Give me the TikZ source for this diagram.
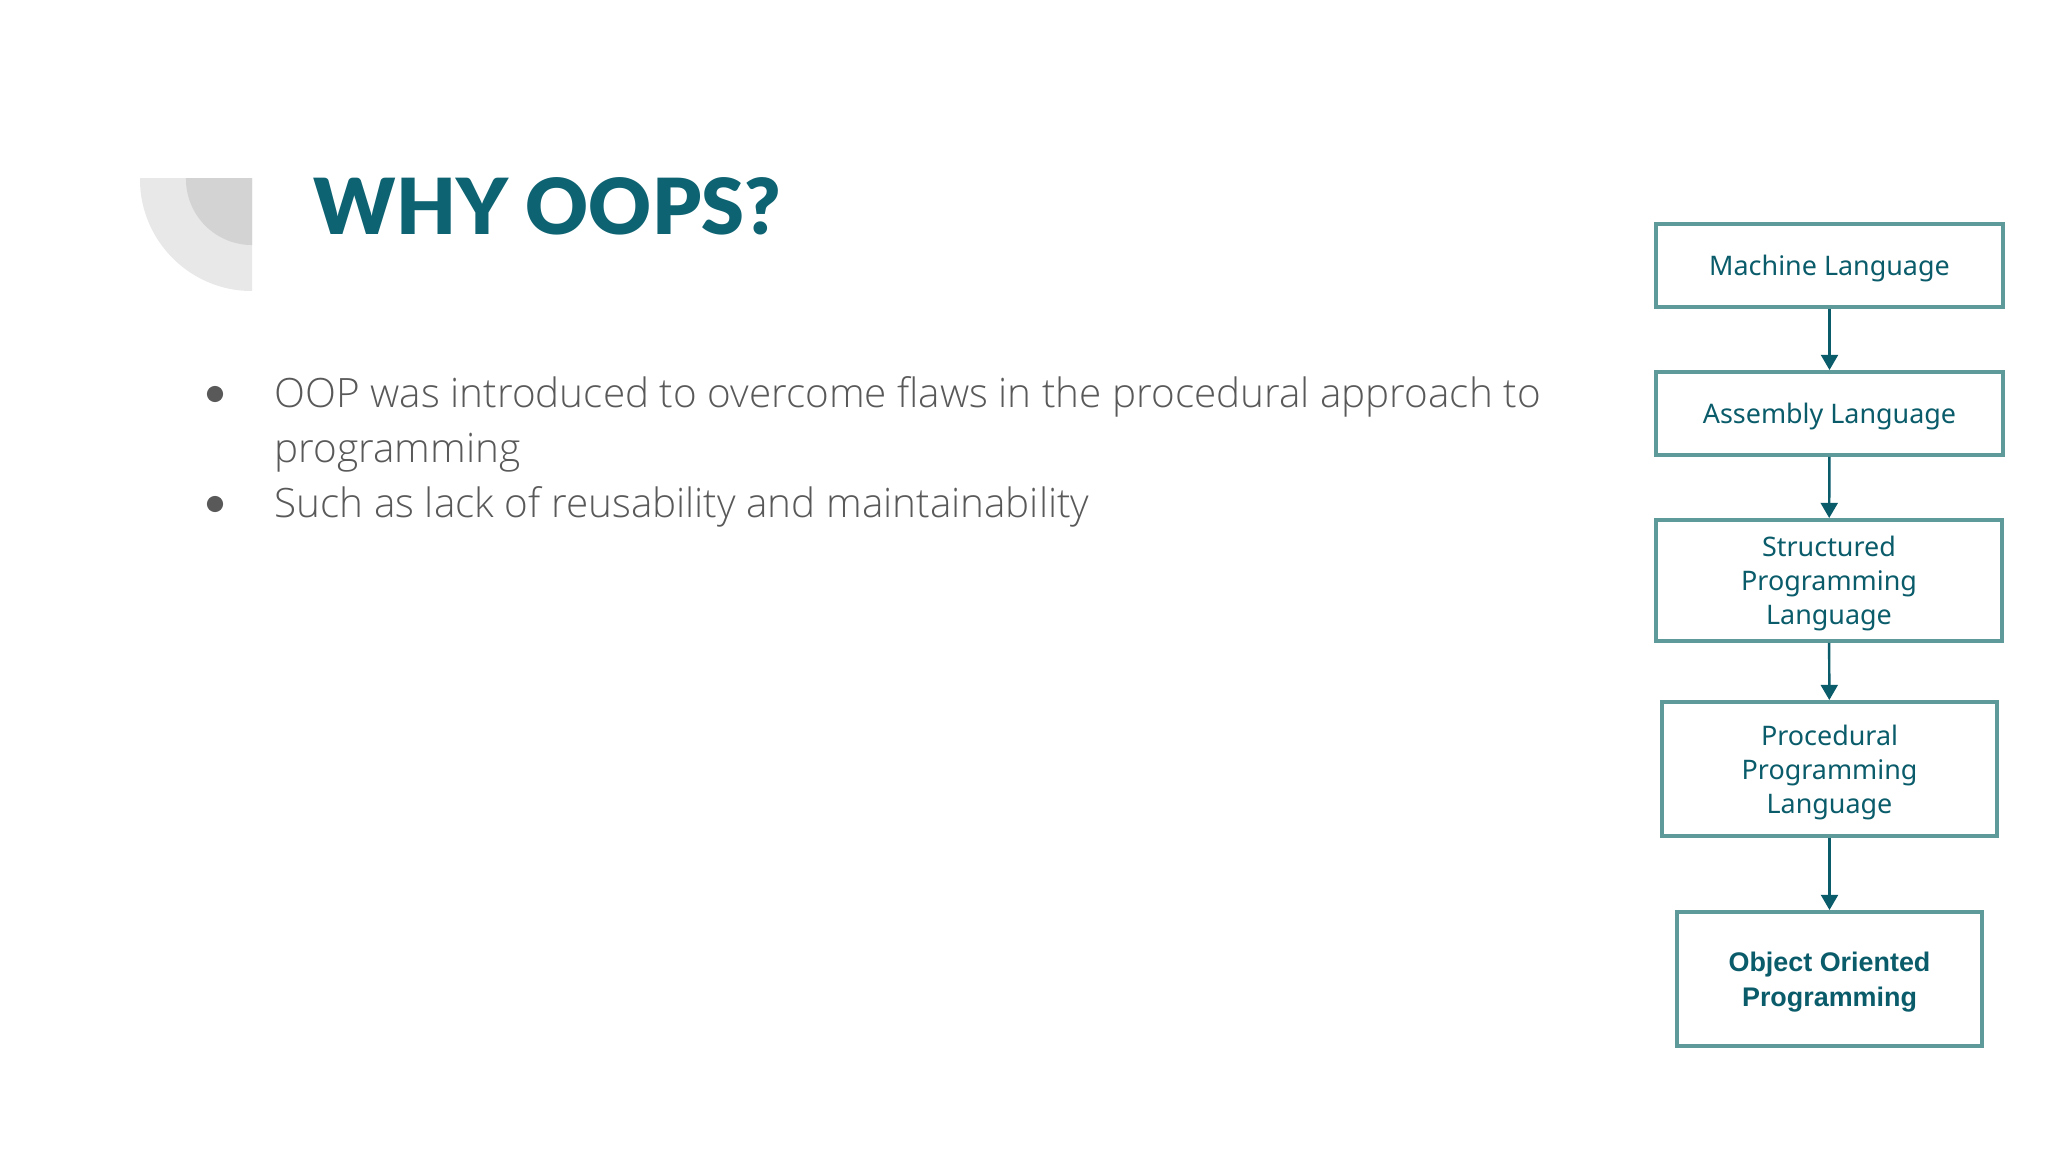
\documentclass[tikz,border=0pt]{standalone}
\usepackage{fontspec}
\usetikzlibrary{arrows.meta}
\newfontfamily\titlefont{Lato Black}
\newfontfamily\bodyfont{Open Sans Light}
\newfontfamily\boxfont{Noto Sans}
\newfontfamily\oopfont{Liberation Sans}
\definecolor{oopteal}{HTML}{0E6372}
\definecolor{boxedge}{HTML}{5E9A99}
\definecolor{boxtext}{HTML}{0A5C6B}
\definecolor{bodygray}{HTML}{595959}
\definecolor{decoouter}{HTML}{E8E8E8}
\definecolor{decoinner}{HTML}{D3D3D3}
\tikzset{
  langbox/.style={draw=boxedge, line width=1.1pt, align=center, inner sep=0pt, text depth=0pt,
    text=boxtext, font=\boxfont\fontsize{7.65}{9.67}\selectfont},
  flow/.style={draw=boxtext, line width=0.7pt, -{Triangle[length=4.3pt,width=4.8pt]}},
  bulletdot/.style={circle, fill=bodygray, minimum size=4.6pt, inner sep=0pt},
  bodytext/.style={anchor=base west, inner sep=0pt, align=left, text=bodygray,
    font=\bodyfont\fontsize{11.5}{15.65}\selectfont}
}
\begin{document}
\begin{tikzpicture}[x=0.01cm, y=-0.01cm]
\useasboundingbox (0,0) rectangle (2048,1152);
\fill[white] (0,0) rectangle (2048,1152);
% corner decoration
\begin{scope}
\clip (140,179) rectangle (252,291);
\fill[decoouter] (252,179) circle [radius=1.12cm];
\fill[decoinner] (252,179) circle [radius=0.66cm];
\end{scope}
% title
\node[anchor=base west, inner sep=0pt, text=oopteal, font=\titlefont\fontsize{22}{26}\selectfont] (title) at (313,235) {WHY OOPS?};
% bullets
\node[bulletdot] (dot1) at (215,394) {};
\node[bulletdot] (dot2) at (215,504) {};
\node[bodytext] (point1) at (274,463)
  {OOP was introduced to overcome flaws in the procedural approach to\\programming};
\node[bodytext] (point2) at (274,518) {Such as lack of reusability and maintainability};
% language boxes
\node[langbox, minimum width=3.47cm, minimum height=0.83cm] (machine) at (1829.5,265.5) {Machine Language};
\node[langbox, minimum width=3.47cm, minimum height=0.83cm] (assembly) at (1829.5,413.5) {Assembly Language};
\node[langbox, minimum width=3.46cm, minimum height=1.21cm] (structured) at (1829,580.5) {Structured\\Programming\\Language};
\node[langbox, minimum width=3.35cm, minimum height=1.34cm] (procedural) at (1829.5,769) {Procedural\\Programming\\Language};
\node[langbox, minimum width=3.04cm, minimum height=1.34cm, font=\oopfont\bfseries\fontsize{7.65}{9.9}\selectfont] (oop) at (1829.5,979) {Object Oriented\\Programming};
\draw[flow] (machine) -- (assembly);
\draw[flow] (assembly) -- (structured);
\draw[flow] (structured) -- (procedural);
\draw[flow] (procedural) -- (oop);
\end{tikzpicture}
\end{document}
